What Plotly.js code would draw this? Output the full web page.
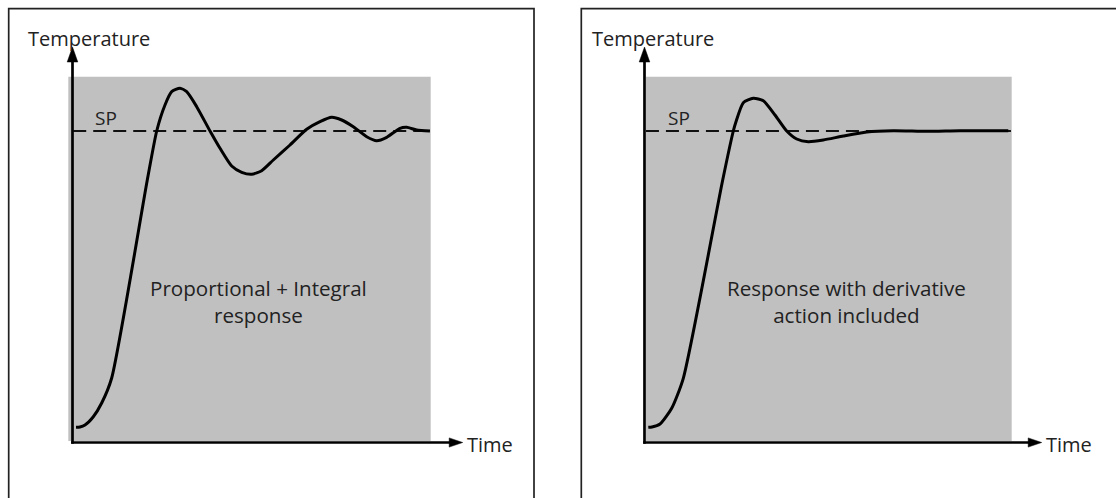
<!DOCTYPE html>
<html>
<head>
<meta charset="utf-8">
<script src="https://cdn.plot.ly/plotly-3.0.1.min.js"></script>
<style>html,body{margin:0;padding:0;background:#fff;}#chart{width:1116px;height:498px;}</style>
</head>
<body>
<div id="chart"></div>
<script>
// ---- Data (time in arbitrary units, temperature as % of set point) ----
const setPoint = 100;
const piTime = [0.98, 2.09, 3.49, 5.81, 8.15, 10.94, 20.88, 23.51, 25.82, 27.69, 30.01, 31.88, 34.67, 38.39, 41.18, 44.44, 47.24, 50.03, 52.82, 56.06, 60.72, 65.38, 69.10, 72.36, 75.15, 78.39, 82.13, 84.92, 87.72, 91.43, 93.30, 96.09, 99.80];
const piTemp = [4.88, 4.98, 5.62, 8.28, 12.68, 20.71, 84.27, 100.0, 108.35, 112.62, 113.71, 112.62, 107.80, 100.0, 94.45, 88.76, 86.74, 86.10, 87.26, 90.69, 95.51, 100.55, 102.99, 104.40, 103.53, 101.38, 98.17, 96.89, 97.98, 100.87, 101.19, 100.32, 100.0];
const pidTime = [1.06, 2.09, 4.33, 7.59, 10.83, 21.83, 24.79, 25.54, 27.58, 30.37, 33.17, 36.43, 39.70, 42.49, 45.73, 49.92, 55.50, 62.03, 69.46, 78.78, 88.08, 101.56];
const pidTemp = [4.88, 4.98, 5.94, 10.98, 20.61, 84.27, 100.0, 102.99, 109.09, 110.50, 109.73, 105.14, 100.0, 97.43, 96.57, 97.11, 98.39, 99.68, 100.10, 99.90, 100.10, 100.10];
const spLeftTime = [0.2, 99.8];
const spRightTime = [0.4, 102.3];
const axisLabelY = "Temperature";
const axisLabelX = "Time";
const spLabel = "SP";
const leftCaption = "Proportional + Integral<br>response";
const rightCaption = "Response with derivative<br>action included";

// ---- Layout geometry (pixels) ----
const W = 1116, H = 498;
const sx = 3.582, sy = 3.115;       // px per unit
const oyPx = 442.5;
const oxL = 72.5, oxR = 644.5;
const px = x => x / W;
const py = y => 1 - y / H;

const xRangeL = [(0 - oxL) / sx, (558 - oxL) / sx];
const xRangeR = [(558 - oxR) / sx, (1116 - oxR) / sx];
const yRange = [(oyPx - H) / sy, oyPx / sy];

const font = "'Open Sans', Lato, sans-serif";
const txtColor = "#222";

const traces = [
  {x: spLeftTime, y: [setPoint, setPoint], xaxis: 'x', yaxis: 'y', mode: 'lines',
   line: {color: '#111', width: 2, dash: '13px,7px'}, hoverinfo: 'skip'},
  {x: spRightTime, y: [setPoint, setPoint], xaxis: 'x2', yaxis: 'y2', mode: 'lines',
   line: {color: '#111', width: 2, dash: '13px,7px'}, hoverinfo: 'skip'},
  {x: piTime, y: piTemp, xaxis: 'x', yaxis: 'y', mode: 'lines',
   line: {color: '#000', width: 3, shape: 'spline', smoothing: 0.6}},
  {x: pidTime, y: pidTemp, xaxis: 'x2', yaxis: 'y2', mode: 'lines',
   line: {color: '#000', width: 3, shape: 'spline', smoothing: 0.6}}
];

function rectPx(x0, y0, x1, y1, opts) {
  return Object.assign({type: 'rect', xref: 'paper', yref: 'paper',
    x0: px(x0), x1: px(x1), y0: py(y1), y1: py(y0)}, opts);
}
function linePx(x0, y0, x1, y1, w) {
  return {type: 'line', xref: 'paper', yref: 'paper', layer: 'above',
    x0: px(x0), y0: py(y0), x1: px(x1), y1: py(y1), line: {color: '#000', width: w}};
}
function triPx(pts) {
  const d = 'M ' + pts.map(p => px(p[0]) + ',' + py(p[1])).join(' L ') + ' Z';
  return {type: 'path', xref: 'paper', yref: 'paper', layer: 'above', path: d,
    fillcolor: '#000', line: {color: '#000', width: 0.5}};
}

const shapes = [];
function panel(ox, grayL, grayR, boxL, boxR, arrowTipX) {
  shapes.push(rectPx(grayL, 76.7, grayR, 441, {layer: 'below', fillcolor: '#c0c0c0', line: {width: 0}}));
  shapes.push(rectPx(boxL, 8.7, boxR, 505, {layer: 'above', fillcolor: 'rgba(0,0,0,0)', line: {color: '#222', width: 1.7}}));
  shapes.push(linePx(ox, 443.8, ox, 60, 2.7));
  shapes.push(triPx([[ox, 47], [ox - 5.3, 62], [ox + 5.3, 62]]));
  shapes.push(linePx(ox - 1.3, oyPx, arrowTipX - 12, oyPx, 2.7));
  shapes.push(triPx([[arrowTipX, oyPx], [arrowTipX - 13.5, oyPx - 4.6], [arrowTipX - 13.5, oyPx + 4.6]]));
}
panel(oxL, 68.3, 430.7, 8.7, 534, 462.7);
panel(oxR, 646, 1011.7, 581.3, 1125, 1041.7);

function ann(text, x, y, xanchor, size) {
  return {text: text, xref: 'paper', yref: 'paper', x: px(x), y: py(y),
    xanchor: xanchor, yanchor: 'middle', showarrow: false, align: 'center',
    borderpad: 0, borderwidth: 0,
    font: {family: font, size: size, color: txtColor}};
}
const annotations = [
  ann(axisLabelY, 28, 38, 'left', 20),
  ann(axisLabelY, 592, 38, 'left', 20),
  ann(spLabel, 95, 118.5, 'left', 19),
  ann(spLabel, 668, 118.5, 'left', 19),
  ann(axisLabelX, 466.5, 444, 'left', 20),
  ann(axisLabelX, 1046, 444, 'left', 20),
  ann(leftCaption, 258.5, 301, 'center', 20.6),
  ann(rightCaption, 846.5, 301, 'center', 20.6)
];

const hidden = {visible: false, showgrid: false, zeroline: false, fixedrange: true};
const layout = {
  width: W, height: H,
  margin: {l: 0, r: 0, t: 0, b: 0, pad: 0},
  paper_bgcolor: '#fff', plot_bgcolor: 'rgba(0,0,0,0)',
  showlegend: false,
  xaxis: Object.assign({domain: [0, 0.5], range: xRangeL}, hidden),
  yaxis: Object.assign({domain: [0, 1], range: yRange, anchor: 'x'}, hidden),
  xaxis2: Object.assign({domain: [0.5, 1], range: xRangeR, anchor: 'y2'}, hidden),
  yaxis2: Object.assign({domain: [0, 1], range: yRange, anchor: 'x2'}, hidden),
  shapes: shapes,
  annotations: annotations
};
Plotly.newPlot('chart', traces, layout, {staticPlot: true, displayModeBar: false});
</script>
</body>
</html>
